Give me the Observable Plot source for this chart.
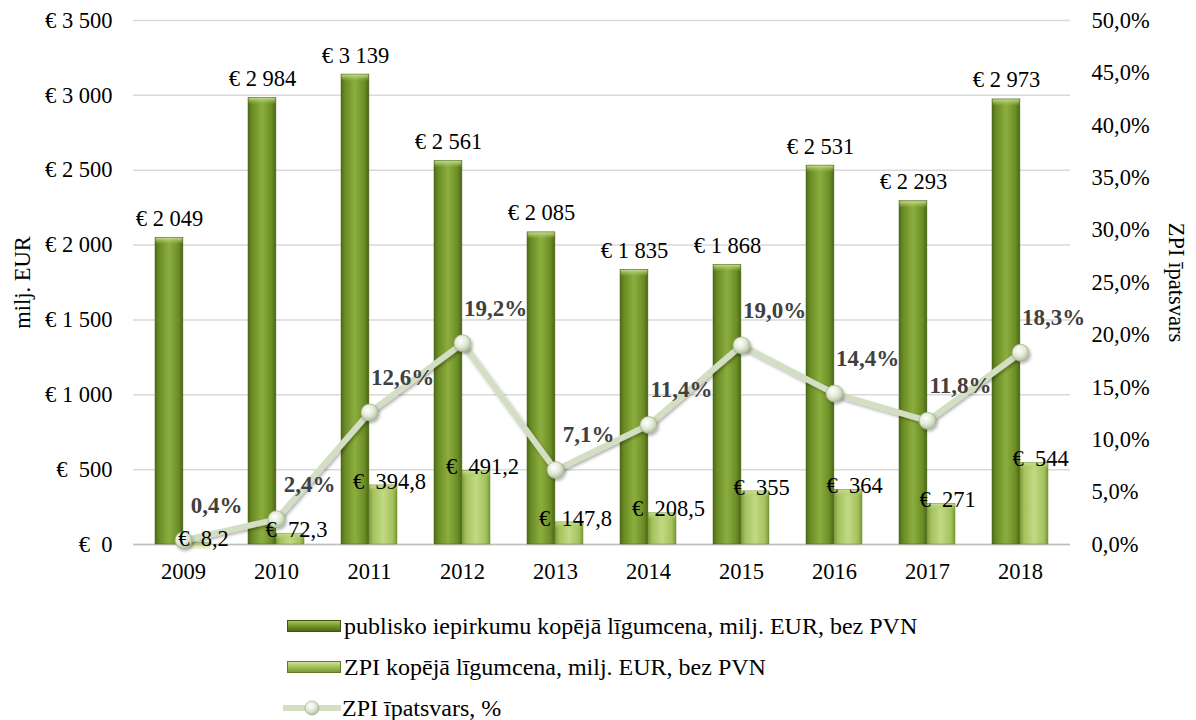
<!DOCTYPE html>
<html><head><meta charset="utf-8">
<script src="https://cdn.jsdelivr.net/npm/d3@7"></script>
<script src="https://cdn.jsdelivr.net/npm/@observablehq/plot@0.6"></script>
<style>
body{margin:0;background:#fff;font-family:"Liberation Serif","Times New Roman",serif;}
#legend{position:relative;height:130px;width:1196px;}
.row{position:absolute;left:283px;height:30px;display:flex;align-items:center;font-size:24px;color:#000;white-space:nowrap;}
.sw{width:54px;height:12px;margin-right:3px;box-sizing:border-box;}
</style></head><body><div id="chart"></div><div id="legend"></div>
<script>
const years = ["2009","2010","2011","2012","2013","2014","2015","2016","2017","2018"];
const totals = [2049, 2984, 3139, 2561, 2085, 1835, 1868, 2531, 2293, 2973];
const zpiValues = [8.2, 72.3, 394.8, 491.2, 147.8, 208.5, 355, 364, 271, 544];
const shares = [0.4, 2.4, 12.6, 19.2, 7.1, 11.4, 19.0, 14.4, 11.8, 18.3];
const leftTicks = [0, 500, 1000, 1500, 2000, 2500, 3000, 3500];
const rightTicks = [0, 5, 10, 15, 20, 25, 30, 35, 40, 45, 50];
const seriesNames = ["publisko iepirkumu kopējā līgumcena, milj. EUR, bez PVN", "ZPI kopējā līgumcena, milj. EUR, bez PVN", "ZPI īpatsvars, %"];
const leftLabel = "milj. EUR";
const rightLabel = "ZPI īpatsvars";

const RATIO = 3500 / 50; // maps percent axis onto left axis
const NB = "\u00a0";
const FS = 22.5;
const loc = d3.formatLocale({decimal: ",", thousands: NB, grouping: [3], currency: ["", ""]});
const fInt = loc.format(",");
const fDec = v => Number.isInteger(v) ? fInt(v) : loc.format(",.1f")(v);
const euroTick = v => v < 1000 ? "€" + NB + NB + fInt(v) : "€" + NB + fInt(v);

const data = years.map((y, i) => ({year: y, total: totals[i], zpi: zpiValues[i], share: shares[i], shareY: shares[i] * RATIO}));

const defs = () => {
  const d = d3.create("svg:defs");
  const g1 = d.append("linearGradient").attr("id", "gDark").attr("x1", 0).attr("x2", 1).attr("y1", 0).attr("y2", 0);
  [[0, "#4e6a17"], [0.15, "#6a8c25"], [0.5, "#8cae3f"], [0.85, "#6a8c25"], [1, "#4a6515"]].forEach(([o, c]) => g1.append("stop").attr("offset", o).attr("stop-color", c));
  const g2 = d.append("linearGradient").attr("id", "gLight").attr("x1", 0).attr("x2", 1).attr("y1", 0).attr("y2", 0);
  [[0, "#7d9c36"], [0.15, "#a4c25e"], [0.5, "#c2da84"], [0.85, "#a4c25e"], [1, "#7a9833"]].forEach(([o, c]) => g2.append("stop").attr("offset", o).attr("stop-color", c));
  const g4 = d.append("linearGradient").attr("id", "gTop").attr("x1", 0).attr("x2", 0).attr("y1", 0).attr("y2", 1);
  [[0, "#c8de8e", 0.95], [1, "#a6c45c", 0]].forEach(([o, c, op]) => g4.append("stop").attr("offset", o).attr("stop-color", c).attr("stop-opacity", op));
  const g3 = d.append("radialGradient").attr("id", "gDot").attr("cx", 0.4).attr("cy", 0.35).attr("r", 0.7);
  [[0, "#ffffff"], [0.5, "#e3ead6"], [1, "#a9b896"]].forEach(([o, c]) => g3.append("stop").attr("offset", o).attr("stop-color", c));
  const f = d.append("filter").attr("id", "shadow").attr("x", -0.2).attr("y", -0.2).attr("width", 1.5).attr("height", 1.5);
  f.append("feDropShadow").attr("dx", 1.5).attr("dy", 2).attr("stdDeviation", 1.5).attr("flood-color", "#000").attr("flood-opacity", 0.3);
  return d.node();
};

const chart = Plot.plot({
  width: 1196,
  height: 590,
  marginTop: 20,
  marginBottom: 46,
  marginLeft: 133,
  marginRight: 126,
  style: {fontSize: FS + "px", fontFamily: "'Liberation Serif', 'Times New Roman', serif", color: "#000", background: "#fff"},
  x: {type: "band", domain: years, paddingInner: 0.4, paddingOuter: 0.2, label: null},
  y: {domain: [0, 3500], label: null},
  marks: [
    defs,
    Plot.gridY(leftTicks, {stroke: "#d9d9d9", strokeOpacity: 1, strokeWidth: 1.5}),
    Plot.ruleY([0], {stroke: "#bfbfbf", strokeWidth: 1.5}),
    Plot.barY(data, {x: "year", y: "total", insetRight: 28.1, fill: "url(#gDark)", stroke: "#4a6515", strokeWidth: 0.5}),
    Plot.barY(data, {x: "year", y1: "total", y2: "total", insetRight: 28.6, insetLeft: 0.5, insetTop: 0.5, insetBottom: -7, fill: "url(#gTop)"}),
    Plot.barY(data, {x: "year", y: "zpi", insetLeft: 28.1, fill: "url(#gLight)", stroke: "#6f8c2e", strokeWidth: 0.5}),
    Plot.barY(data, {x: "year", y1: "zpi", y2: "zpi", insetLeft: 28.6, insetRight: 0.5, insetTop: 0.5, insetBottom: -7, fill: "url(#gTop)"}),
    Plot.axisY({ticks: leftTicks, tickFormat: euroTick, tickSize: 0, tickPadding: 21, fontSize: FS}),
    Plot.axisY({anchor: "right", ticks: rightTicks.map(t => t * RATIO), tickFormat: v => (v / RATIO).toFixed(1).replace(".", ",") + "%", tickSize: 0, tickPadding: 21, fontSize: FS}),
    Plot.axisX({tickSize: 0, tickPadding: 19, fontSize: FS}),
    Plot.text([leftLabel], {frameAnchor: "left", dx: -111, textAnchor: "middle", lineAnchor: "middle", rotate: -90, fontSize: FS}),
    Plot.text([rightLabel], {frameAnchor: "right", dx: 106, textAnchor: "middle", lineAnchor: "middle", rotate: 90, fontSize: FS}),
    Plot.line(data, {x: "year", y: "shareY", stroke: "#d3dec3", strokeWidth: 6}),
    Plot.dot(data, {x: "year", y: "shareY", r: 8.5, fill: "url(#gDot)", stroke: "#9fae8a", strokeWidth: 0.7}),
    Plot.text(data, {x: "year", y: "total", text: d => "€" + NB + fInt(d.total), dx: -14, dy: -12, lineAnchor: "bottom", fontSize: FS}),
    Plot.text(data, {x: "year", y: "zpi", text: d => "€" + NB + NB + fDec(d.zpi), dx: 20, dy: -4, lineAnchor: "middle", fontSize: FS}),
    Plot.text(data, {x: "year", y: "shareY", text: d => d.share.toFixed(1).replace(".", ",") + "%", dx: 33, dy: -35, fontSize: 23, fontWeight: "bold", fill: "#404040"})
  ]
});
d3.select(chart).selectAll("g[aria-label='line'] path").attr("filter", "url(#shadow)");
d3.select(chart).selectAll("g[aria-label='dot'] circle").attr("filter", "url(#shadow)");
document.getElementById("chart").appendChild(chart);

const legend = d3.select("#legend");
const rowsY = [21, 62, 103];
legend.append("div").attr("class", "row").style("top", rowsY[0] + "px")
  .html(`<div class="sw" style="margin-left:4px;background:linear-gradient(#a9c75f,#7a9a2e 45%,#4e6a17);border:1px solid #3f5610"></div><span>${seriesNames[0]}</span>`);
legend.append("div").attr("class", "row").style("top", rowsY[1] + "px")
  .html(`<div class="sw" style="margin-left:4px;background:linear-gradient(#d2e59a,#a4c25e 45%,#7a9833);border:1px solid #5f7a22"></div><span>${seriesNames[1]}</span>`);
legend.append("div").attr("class", "row").style("top", rowsY[2] + "px")
  .html(`<svg width="58" height="20" style="margin-right:1px"><line x1="0" y1="10" x2="58" y2="10" stroke="#d3dec3" stroke-width="6"/><circle cx="29" cy="10" r="7" fill="url(#gDot)" stroke="#9fae8a" stroke-width="0.7"/></svg><span>${seriesNames[2]}</span>`);
</script></body></html>
